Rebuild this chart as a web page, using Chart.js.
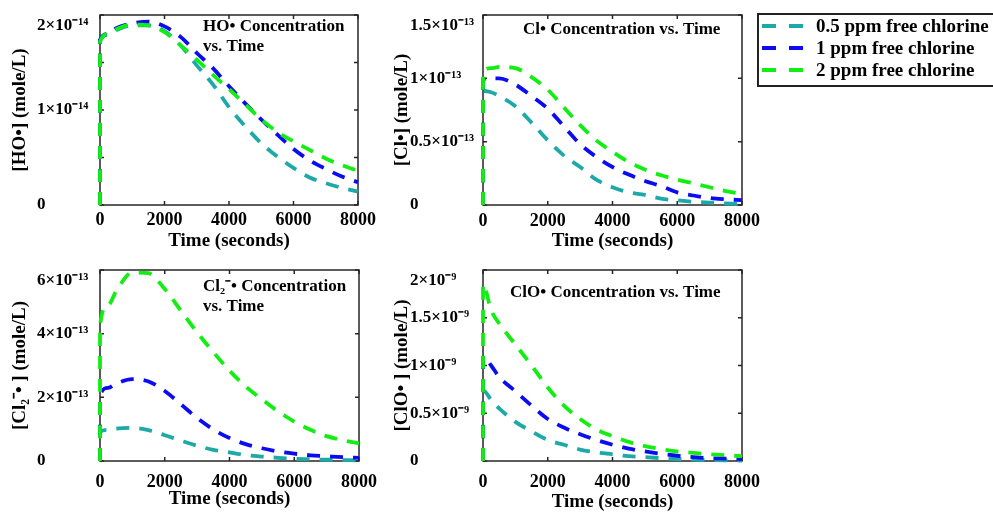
<!DOCTYPE html>
<html>
<head>
<meta charset="utf-8">
<script src="https://cdn.jsdelivr.net/npm/chart.js@4.4.1/dist/chart.umd.min.js"></script>
<style>
  html, body { margin: 0; padding: 0; background: #fff; }
  body { width: 993px; height: 514px; overflow: hidden; position: relative; }
  canvas { position: absolute; }
  #legend { position: absolute; left: 757px; top: 13px; width: 260px; height: 74px;
            border: 2px solid #222; box-sizing: border-box; }
  .row { position: absolute; left: 3px; height: 22px; display: flex; align-items: center;
         font: bold 19px 'Liberation Serif', 'Times New Roman', serif; white-space: nowrap; }
  .dash { display: inline-block; width: 14px; height: 4px; margin-right: 13px; }
</style>
</head>
<body>
<canvas id="ho" width="385" height="255" style="left:0;top:0"></canvas>
<canvas id="cl" width="400" height="255" style="left:370px;top:0"></canvas>
<canvas id="cl2" width="385" height="259" style="left:0;top:255px"></canvas>
<canvas id="clo" width="400" height="259" style="left:370px;top:255px"></canvas>
<div id="legend"></div>
<script>
// time in seconds, shared by every curve
const times = [0, 1, 250, 500, 1000, 1500, 2000, 2500, 3000, 3500, 4000, 4500, 5000, 5500, 6000, 6500, 7000, 7500, 8000];
const timeTickLabels = ['0', '2000', '4000', '6000', '8000'];

const seriesNames = ['0.5 ppm free chlorine', '1 ppm free chlorine', '2 ppm free chlorine'];
const seriesColors = ['#1ea9a9', '#0c0cf2', '#12ee12'];

// HO• in units of 1e-14 mole/L
const hoLow = [0, 1.73, 1.79, 1.84, 1.89, 1.89, 1.83, 1.68, 1.47, 1.27, 1.03, 0.83, 0.65, 0.51, 0.39, 0.29, 0.23, 0.18, 0.14];
const hoMid = [0, 1.74, 1.80, 1.86, 1.91, 1.93, 1.88, 1.77, 1.60, 1.44, 1.25, 1.07, 0.90, 0.74, 0.59, 0.47, 0.38, 0.30, 0.24];
const hoHigh = [0, 1.72, 1.80, 1.85, 1.90, 1.89, 1.82, 1.68, 1.53, 1.37, 1.22, 1.06, 0.90, 0.77, 0.67, 0.58, 0.49, 0.42, 0.36];
// the top label sits a line below its tick, as in the original
const hoTickLabels = ['0', '', '1×10⁻¹⁴', '', ['', '2×10⁻¹⁴']];

// Cl• in units of 1e-13 mole/L
const clLow = [0, 0.90, 0.89, 0.86, 0.78, 0.65, 0.51, 0.39, 0.30, 0.20, 0.14, 0.10, 0.08, 0.05, 0.037, 0.026, 0.018, 0.012, 0.008];
const clMid = [0, 0.99, 1.00, 1.00, 0.95, 0.86, 0.76, 0.62, 0.48, 0.38, 0.30, 0.24, 0.19, 0.15, 0.10, 0.075, 0.055, 0.045, 0.038];
const clHigh = [0, 1.055, 1.08, 1.09, 1.08, 1.01, 0.91, 0.77, 0.63, 0.51, 0.42, 0.34, 0.28, 0.235, 0.20, 0.17, 0.14, 0.11, 0.086];
const clTickLabels = ['0', '0.5×10⁻¹³', '1×10⁻¹³', ['', '1.5×10⁻¹³']];

// Cl2-• in units of 1e-13 mole/L
const cl2Low = [0, 0.92, 0.98, 1.02, 1.04, 0.97, 0.81, 0.64, 0.48, 0.35, 0.27, 0.19, 0.14, 0.10, 0.07, 0.055, 0.04, 0.03, 0.02];
const cl2Mid = [0, 2.06, 2.30, 2.43, 2.57, 2.50, 2.20, 1.78, 1.35, 0.99, 0.72, 0.53, 0.40, 0.30, 0.23, 0.18, 0.15, 0.12, 0.10];
const cl2High = [0, 4.25, 4.90, 5.34, 5.92, 5.90, 5.40, 4.72, 4.04, 3.42, 2.84, 2.34, 1.94, 1.56, 1.24, 0.98, 0.78, 0.65, 0.55];
const cl2TickLabels = ['0', '2×10⁻¹³', '4×10⁻¹³', ['', '6×10⁻¹³']];

// ClO• in units of 1e-9 mole/L
const cloLow = [0, 0.74, 0.64, 0.55, 0.41, 0.31, 0.22, 0.17, 0.12, 0.09, 0.07, 0.05, 0.04, 0.03, 0.02, 0.015, 0.01, 0.007, 0.005];
const cloMid = [0, 1.10, 1.00, 0.88, 0.73, 0.58, 0.44, 0.35, 0.28, 0.22, 0.17, 0.13, 0.10, 0.075, 0.055, 0.04, 0.03, 0.025, 0.02];
const cloHigh = [0, 1.85, 1.58, 1.44, 1.22, 1.00, 0.77, 0.58, 0.44, 0.33, 0.26, 0.20, 0.155, 0.125, 0.10, 0.085, 0.07, 0.06, 0.05];
const cloTickLabels = ['0', '0.5×10⁻⁹', '1×10⁻⁹', '1.5×10⁻⁹', ['', '2×10⁻⁹']];

Chart.defaults.font.family = "'Liberation Serif', 'Times New Roman', serif";
Chart.defaults.font.weight = 'bold';
Chart.defaults.font.size = 18;
Chart.defaults.color = '#000';

// box around the plot with inward tick marks on all four sides
const frame = {
  id: 'frame',
  beforeDatasetsDraw(chart) {
    const {ctx, chartArea: a, scales: {x, y}} = chart;
    ctx.save();
    ctx.strokeStyle = '#262626';
    ctx.lineWidth = 1.5;
    ctx.beginPath();
    x.ticks.forEach(t => {
      const px = x.getPixelForValue(t.value);
      ctx.moveTo(px, a.bottom); ctx.lineTo(px, a.bottom - 4);
      ctx.moveTo(px, a.top); ctx.lineTo(px, a.top + 4);
    });
    y.ticks.forEach(t => {
      const py = y.getPixelForValue(t.value);
      ctx.moveTo(a.left, py); ctx.lineTo(a.left + 4, py);
      ctx.moveTo(a.right, py); ctx.lineTo(a.right - 4, py);
    });
    ctx.stroke();
    ctx.strokeRect(a.left, a.top, a.width, a.height);
    ctx.restore();
  }
};

// text written inside the plot
const note = {
  id: 'note',
  afterDatasetsDraw(chart, args, opts) {
    const {ctx, chartArea: a} = chart;
    ctx.save();
    ctx.font = "bold 17px 'Liberation Serif', 'Times New Roman', serif";
    ctx.fillStyle = '#000';
    ctx.textBaseline = 'middle';
    opts.lines.forEach((t, i) => ctx.fillText(t, a.left + opts.dx, a.top + opts.dy + i * 20));
    ctx.restore();
  }
};

function panel(id, series, yMax, yStep, yTicks, yTitle, noteLines, lay) {
  return new Chart(document.getElementById(id), {
    type: 'line',
    data: {
      datasets: series.map((vals, i) => ({
        label: seriesNames[i],
        data: times.map((t, k) => ({x: t, y: vals[k]})),
        xAxisID: 'x',
        yAxisID: 'y',
        borderColor: seriesColors[i],
        borderWidth: 3.8,
        borderDash: [13, 10],
        pointRadius: 0,
        cubicInterpolationMode: 'monotone',
        clip: 3,
        order: 2 - i
      }))
    },
    options: {
      responsive: false,
      animation: false,
      layout: {padding: {top: lay.top, right: lay.right, left: 0, bottom: 0}},
      plugins: {
        legend: {display: false},
        tooltip: {enabled: false},
        note: {lines: noteLines, dx: lay.noteX, dy: lay.noteY}
      },
      scales: {
        x: {
          type: 'linear', min: 0, max: 8000,
          grid: {display: false, drawTicks: false},
          border: {display: false},
          ticks: {stepSize: 2000, padding: lay.xPad, maxRotation: 0, autoSkip: false,
                  callback: (v, i) => timeTickLabels[i]},
          title: {display: true, text: 'Time (seconds)', font: {size: 19},
                  padding: {top: 0, bottom: lay.xTitlePad}},
          afterFit: s => { s.height = lay.xH; s.paddingLeft = 0; s.paddingRight = 0; }
        },
        y: {
          type: 'linear', min: 0, max: yMax,
          grid: {display: false, drawTicks: false},
          border: {display: false},
          ticks: {stepSize: yStep, crossAlign: 'far', autoSkip: false, font: {size: 17},
                  callback: (v, i) => yTicks[i]},
          afterFit: s => { s.width = lay.yW; s.paddingTop = 0; }
        },
        yt: {
          type: 'linear', position: 'left', weight: 1,
          grid: {display: false, drawTicks: false},
          border: {display: false},
          ticks: {display: false},
          title: {display: true, text: yTitle, font: {size: 19},
                  padding: {top: lay.yTitlePad, bottom: 0}},
          afterFit: s => { s.width = lay.ytW; }
        }
      }
    },
    plugins: [frame, note]
  });
}

panel('ho', [hoLow, hoMid, hoHigh], 2, 0.5, hoTickLabels, '[HO•] (mole/L)',
  ['HO• Concentration', 'vs. Time'],
  {top: 15, right: 27, ytW: 37, yW: 63, xH: 50, xPad: 5, xTitlePad: 3, yTitlePad: 9, noteX: 103, noteY: 12});

panel('cl', [clLow, clMid, clHigh], 1.5, 0.5, clTickLabels, '[Cl•] (mole/L)',
  ['Cl• Concentration vs. Time'],
  {top: 15, right: 28, ytW: 40, yW: 73, xH: 50, xPad: 6, xTitlePad: 3, yTitlePad: 21, noteX: 40, noteY: 15});

panel('cl2', [cl2Low, cl2Mid, cl2High], 6, 2, cl2TickLabels, '[Cl₂⁻• ] (mole/L)',
  ['Cl₂⁻• Concentration', 'vs. Time'],
  {top: 15, right: 26, ytW: 37, yW: 63, xH: 53, xPad: 11, xTitlePad: 4, yTitlePad: 9, noteX: 103, noteY: 17});

panel('clo', [cloLow, cloMid, cloHigh], 2, 0.5, cloTickLabels, '[ClO• ] (mole/L)',
  ['ClO• Concentration vs. Time'],
  {top: 15, right: 28, ytW: 40, yW: 73, xH: 53, xPad: 11, xTitlePad: 1, yTitlePad: 21, noteX: 27, noteY: 23});

const legend = document.getElementById('legend');
seriesNames.forEach((name, i) => {
  const row = document.createElement('div');
  row.className = 'row';
  row.style.top = (0 + i * 22) + 'px';
  const swatch = `<span class="dash" style="background:${seriesColors[i]}"></span>`;
  row.innerHTML = swatch + swatch + name;
  legend.appendChild(row);
});
</script>
</body>
</html>
